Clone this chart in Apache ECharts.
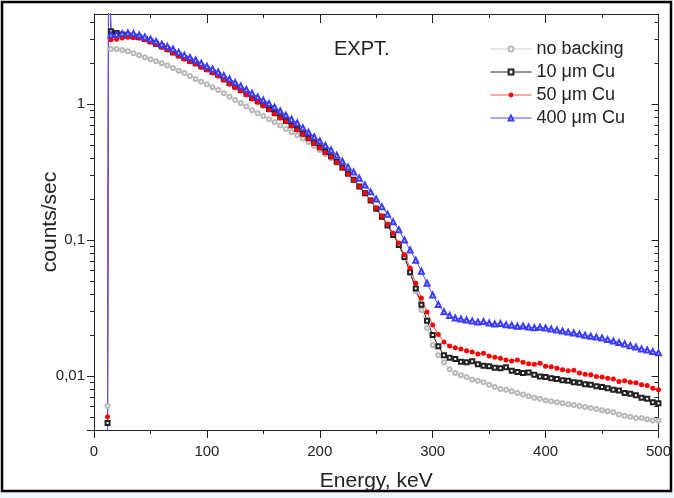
<!DOCTYPE html>
<html>
<head>
<meta charset="utf-8">
<script src="https://cdn.jsdelivr.net/npm/echarts@6/dist/echarts.min.js"></script>
<style>
  html, body { margin: 0; padding: 0; background: #fff; }
  #chart { width: 674px; height: 498px; }
</style>
</head>
<body>
<div id="chart"></div>
<script>
// energy, keV
var energy = [12, 13, 15, 20, 25, 30, 35, 40, 45, 50, 55, 60, 65, 70, 75, 80, 85, 90, 95, 100,
  105, 110, 115, 120, 125, 130, 135, 140, 145, 150, 155, 160, 165, 170, 175, 180, 185, 190, 195, 200,
  205, 210, 215, 220, 225, 230, 235, 240, 245, 250, 255, 260, 265, 270, 275, 280, 285, 290, 295, 300,
  305, 310, 315, 320, 325, 330, 335, 340, 345, 350, 355, 360, 365, 370, 375, 380, 385, 390, 395, 400,
  405, 410, 415, 420, 425, 430, 435, 440, 445, 450, 455, 460, 465, 470, 475, 480, 485, 490, 495, 500];

// counts/sec, no backing
var noBacking = [0.006, 20, 2.54, 2.54, 2.50, 2.45, 2.37, 2.29, 2.21, 2.14, 2.07, 2.00, 1.92, 1.84, 1.76, 1.69, 1.61, 1.53, 1.46, 1.40,
  1.33, 1.27, 1.20, 1.13, 1.07, 1.02, 0.96, 0.90, 0.855, 0.816, 0.775, 0.737, 0.695, 0.655, 0.62, 0.59, 0.557, 0.526, 0.492, 0.459,
  0.43, 0.40, 0.368, 0.338, 0.305, 0.276, 0.248, 0.222, 0.196, 0.172, 0.149, 0.129, 0.109, 0.092, 0.074, 0.057, 0.042, 0.0306, 0.0225, 0.0168,
  0.0142, 0.0126, 0.0112, 0.0105, 0.0101, 0.0098, 0.0094, 0.0092, 0.0090, 0.0086, 0.0083, 0.0080, 0.0079, 0.0077, 0.0075, 0.0073, 0.0071, 0.0069, 0.0068, 0.0066,
  0.0065, 0.0064, 0.0063, 0.0062, 0.0061, 0.0060, 0.0059, 0.0058, 0.0057, 0.0056, 0.0055, 0.0054, 0.0052, 0.0051, 0.0050, 0.0049, 0.0049, 0.0048, 0.0047, 0.0047];

// 10 um Cu
var cu10 = [0.0045, 20, 3.44, 3.33, 3.25, 3.20, 3.14, 3.10, 3.01, 2.90, 2.78, 2.66, 2.54, 2.41, 2.29, 2.18, 2.08, 2.00, 1.90, 1.81,
  1.72, 1.64, 1.53, 1.43, 1.35, 1.27, 1.19, 1.11, 1.05, 0.99, 0.92, 0.86, 0.80, 0.75, 0.70, 0.655, 0.607, 0.562, 0.52, 0.482,
  0.446, 0.413, 0.376, 0.341, 0.308, 0.277, 0.248, 0.221, 0.195, 0.17, 0.148, 0.128, 0.109, 0.092, 0.075, 0.058, 0.044, 0.0334, 0.0255, 0.020,
  0.0165, 0.0142, 0.0136, 0.0133, 0.0127, 0.0126, 0.0128, 0.0122, 0.0119, 0.0118, 0.0115, 0.0114, 0.0116, 0.0109, 0.0107, 0.0105, 0.0106, 0.0102, 0.0099, 0.0098,
  0.0096, 0.0095, 0.0093, 0.0092, 0.0090, 0.0089, 0.0087, 0.0086, 0.0084, 0.0083, 0.0081, 0.0079, 0.0078, 0.0075, 0.0074, 0.0072, 0.0069, 0.0068, 0.0064, 0.0063];

// 50 um Cu
var cu50 = [0.005, 20, 2.97, 3.00, 3.06, 3.10, 3.09, 3.06, 2.97, 2.86, 2.74, 2.62, 2.50, 2.37, 2.25, 2.14, 2.05, 1.97, 1.87, 1.78,
  1.69, 1.61, 1.50, 1.40, 1.32, 1.25, 1.17, 1.09, 1.03, 0.97, 0.905, 0.845, 0.79, 0.74, 0.69, 0.644, 0.597, 0.553, 0.513, 0.475,
  0.44, 0.408, 0.372, 0.338, 0.306, 0.276, 0.248, 0.222, 0.196, 0.172, 0.15, 0.131, 0.112, 0.095, 0.078, 0.0622, 0.048, 0.0375, 0.0295, 0.0237,
  0.0202, 0.0178, 0.0166, 0.0161, 0.0158, 0.0153, 0.0150, 0.0145, 0.0147, 0.0140, 0.0137, 0.0135, 0.0131, 0.0129, 0.0131, 0.0126, 0.0123, 0.0122, 0.0124, 0.0118,
  0.0117, 0.0114, 0.0111, 0.0109, 0.0110, 0.0105, 0.0103, 0.0102, 0.0099, 0.0098, 0.0096, 0.0095, 0.0091, 0.0092, 0.0090, 0.0089, 0.0086, 0.0085, 0.0081, 0.0079];

// 400 um Cu
var cu400 = [0.003, 20, 3.24, 3.27, 3.30, 3.33, 3.30, 3.22, 3.12, 3.01, 2.89, 2.76, 2.65, 2.54, 2.41, 2.29, 2.20, 2.11, 2.00, 1.90,
  1.81, 1.72, 1.62, 1.53, 1.44, 1.36, 1.28, 1.20, 1.13, 1.07, 1.01, 0.95, 0.89, 0.83, 0.775, 0.725, 0.67, 0.62, 0.575, 0.535,
  0.495, 0.46, 0.42, 0.38, 0.345, 0.316, 0.285, 0.254, 0.226, 0.20, 0.176, 0.155, 0.136, 0.119, 0.10, 0.0844, 0.071, 0.059, 0.048, 0.0394,
  0.0335, 0.0296, 0.0278, 0.0267, 0.0262, 0.0258, 0.0254, 0.0249, 0.0251, 0.0245, 0.0241, 0.0243, 0.0238, 0.0236, 0.0232, 0.0233, 0.0229, 0.0226, 0.0228, 0.0225,
  0.0221, 0.0218, 0.0214, 0.0210, 0.0207, 0.0203, 0.0199, 0.0196, 0.0193, 0.0190, 0.0185, 0.0181, 0.0176, 0.0172, 0.0167, 0.0163, 0.0158, 0.0155, 0.0151, 0.0148];

var yMajor = [0.01, 0.1, 1];
var yMinor = [0.005, 0.006, 0.007, 0.008, 0.009, 0.02, 0.03, 0.04, 0.05, 0.06, 0.07, 0.08, 0.09,
  0.2, 0.3, 0.4, 0.5, 0.6, 0.7, 0.8, 0.9, 2, 3, 4];

function pairs(ys) {
  return energy.map(function (e, i) { return [e, ys[i]]; });
}

var chartDom = document.getElementById("chart");
var myChart = echarts.init(chartDom, null, { renderer: "canvas" });
var font = "Liberation Sans, Arial, sans-serif";
var yMin = 0.004, yMax = 4.6;

function yAxisDef(pos, ticks, len, inside, showLine, showLabel) {
  return {
    type: "log",
    position: pos,
    min: yMin,
    max: yMax,
    logBase: 10,
    axisLine: { show: showLine, onZero: false, lineStyle: { color: "#222", width: 1 } },
    axisTick: { show: true, inside: inside, length: len, customValues: ticks, lineStyle: { color: "#222" } },
    axisLabel: {
      show: showLabel,
      customValues: yMajor,
      margin: 9,
      color: "#222",
      fontFamily: font,
      fontSize: 15,
      formatter: function (v) {
        return String(v).replace(".", ",");
      },
    },
    splitLine: { show: false },
  };
}

var yAxes = [
  yAxisDef("left", yMajor, 7, false, true, true),
  yAxisDef("left", yMinor, 4, false, false, false),
  yAxisDef("right", yMajor, 7, true, true, false),
  yAxisDef("right", yMinor, 4, true, false, false),
];
yAxes[0].name = "counts/sec";
yAxes[0].nameLocation = "middle";
yAxes[0].nameGap = 33;
yAxes[0].nameMoveOverlap = false;
yAxes[0].nameTextStyle = { fontFamily: font, fontSize: 21, color: "#222" };

var option = {
  animation: false,
  grid: { left: 94, right: 15, top: 14, bottom: 68 },
  legend: {
    orient: "vertical",
    left: 485,
    top: 35,
    itemWidth: 41,
    itemHeight: 6,
    itemGap: 5,
    lineStyle: { width: 1 },
    textStyle: { fontFamily: font, fontSize: 18, lineHeight: 18, color: "#222" },
    data: ["no backing", "10 μm Cu", "50 μm Cu", "400 μm Cu"],
  },
  graphic: [
    {
      type: "text",
      left: 334,
      top: 39,
      style: { text: "EXPT.", font: "20px " + font, fill: "#222" },
    },
    {
      type: "rect",
      shape: { x: 0, y: 492, width: 674, height: 6 },
      style: { fill: "#eef4fb" },
      silent: true,
    },
    {
      type: "rect",
      shape: { x: 2, y: 2, width: 669, height: 489 },
      style: { fill: null, stroke: "#000", lineWidth: 2.5 },
      silent: true,
    },
    {
      type: "line",
      shape: { x1: 87, y1: 430.5, x2: 94, y2: 430.5 },
      style: { stroke: "#222", lineWidth: 1 },
      silent: true,
    },
    {
      type: "line",
      shape: { x1: 94.5, y1: 430, x2: 94.5, y2: 438 },
      style: { stroke: "#222", lineWidth: 1 },
      silent: true,
    },
  ],
  xAxis: [
    {
      type: "value",
      min: 0,
      max: 500,
      interval: 100,
      name: "Energy, keV",
      nameLocation: "middle",
      nameGap: 41,
      nameMoveOverlap: false,
      nameTextStyle: { fontFamily: font, fontSize: 21, color: "#222" },
      axisLine: { onZero: false, lineStyle: { color: "#222" } },
      axisTick: { length: 8, lineStyle: { color: "#222" } },
      minorTick: { show: true, splitNumber: 2, length: 4, lineStyle: { color: "#222" } },
      axisLabel: { margin: 14, color: "#222", fontFamily: font, fontSize: 15 },
      splitLine: { show: false },
    },
    {
      type: "value",
      position: "top",
      min: 0,
      max: 500,
      interval: 100,
      axisLine: { onZero: false, lineStyle: { color: "#222" } },
      axisTick: { inside: true, length: 9, lineStyle: { color: "#222" } },
      minorTick: { show: true, splitNumber: 2, length: 4, lineStyle: { color: "#222" } },
      axisLabel: { show: false },
      splitLine: { show: false },
    },
  ],
  yAxis: yAxes,
  series: [
    {
      name: "no backing",
      type: "line",
      data: pairs(noBacking),
      symbol: "emptyCircle",
      symbolSize: 4,
      showAllSymbol: true,
      lineStyle: { color: "#cccccc", width: 1 },
      itemStyle: { color: "#b8b8b8", borderWidth: 1 },
    },
    {
      name: "10 μm Cu",
      type: "line",
      data: pairs(cu10),
      symbol: "emptyRect",
      symbolSize: 4,
      showAllSymbol: true,
      lineStyle: { color: "#222", width: 1 },
      itemStyle: { color: "#222", borderWidth: 1 },
    },
    {
      name: "50 μm Cu",
      type: "line",
      data: pairs(cu50),
      symbol: "circle",
      symbolSize: 5,
      showAllSymbol: true,
      lineStyle: { color: "#ff5050", width: 1 },
      itemStyle: { color: "#ff0000" },
    },
    {
      name: "400 μm Cu",
      type: "line",
      data: pairs(cu400),
      symbol: "emptyTriangle",
      symbolSize: 5,
      showAllSymbol: true,
      lineStyle: { color: "#5050ff", width: 1 },
      itemStyle: { color: "#3c3cff", borderWidth: 1 },
    },
  ],
};

option && myChart.setOption(option);
</script>
</body>
</html>
